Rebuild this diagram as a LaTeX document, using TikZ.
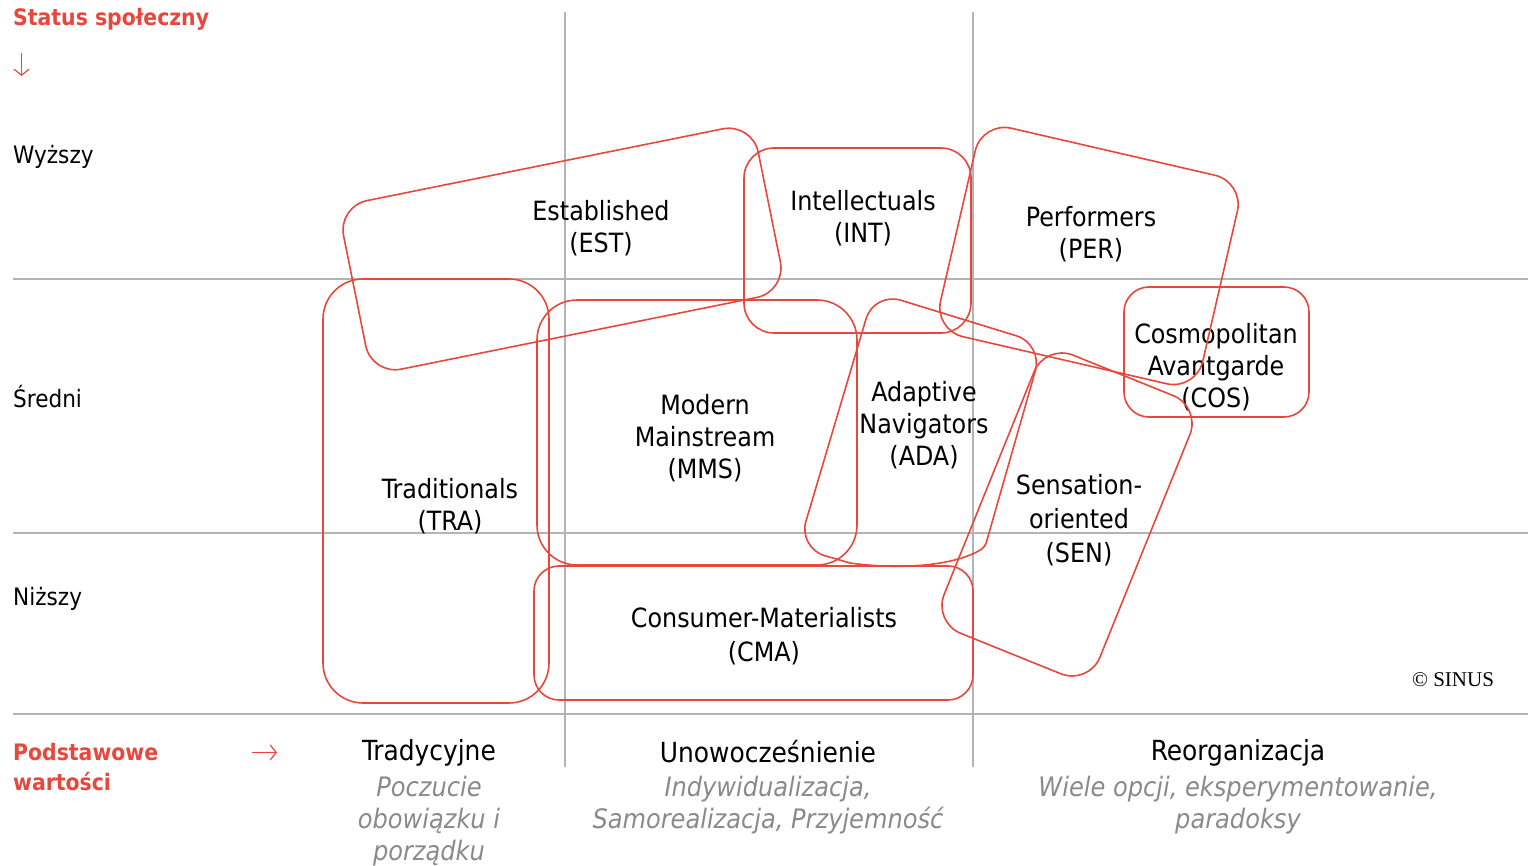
\documentclass[tikz,border=0pt]{standalone}
\usepackage{fontspec}
\usetikzlibrary{arrows.meta}
\setmainfont{DejaVu Sans Condensed}
\newfontfamily\serfont{Liberation Serif}
\definecolor{sred}{HTML}{E8473C}
\definecolor{gline}{HTML}{B4B4B4}
\definecolor{gtext}{HTML}{8A8A8A}
\begin{document}
\begin{tikzpicture}[x=1pt,y=-1pt,
  seg/.style={draw=sred, line width=1.6pt, inner sep=0pt},
  grid/.style={draw=gline, line width=1.6pt},
  lbl/.style={font=\fontsize{26.5}{32}\selectfont, align=center, text=black, inner sep=0pt},
  lblw/.style={font=\fontsize{26.5}{34}\selectfont, align=center, text=black, inner sep=0pt},
  rowlbl/.style={font=\fontsize{24}{28}\selectfont, anchor=west, inner sep=0pt},
  head/.style={font=\fontsize{27.7}{32}\selectfont, align=center, inner sep=0pt},
  sub/.style={font=\fontsize{26.8}{32}\selectfont\itshape, text=gtext, align=center, inner sep=0pt},
  axis/.style={font=\fontsize{22.7}{30}\selectfont\bfseries, text=sred, anchor=west, align=left, inner sep=0pt},
  thinarrow/.style={draw=sred, line width=1.2pt, -{Straight Barb[length=6pt,width=15pt,line width=1.2pt]}}
]
\useasboundingbox (0,0) rectangle (1528,866);
% grid
\coordinate (v1t) at (565,12); \coordinate (v1b) at (565,767);
\coordinate (v2t) at (973,12); \coordinate (v2b) at (973,767);
\coordinate (h1l) at (13,279); \coordinate (h1r) at (1528,279);
\coordinate (h2l) at (13,533); \coordinate (h2r) at (1528,533);
\coordinate (h3l) at (13,714); \coordinate (h3r) at (1528,714);
\draw[grid] (v1t) -- (v1b);
\draw[grid] (v2t) -- (v2b);
\draw[grid] (h1l) -- (h1r);
\draw[grid] (h2l) -- (h2r);
\draw[grid] (h3l) -- (h3r);
% axis labels
\node[axis] (status) at (13,19) {Status społeczny};
\coordinate (da1) at (21.5,53); \coordinate (da2) at (21.5,76);
\draw[thinarrow] (da1) -- (da2);
\node[rowlbl] (wy) at (13,157) {Wyższy};
\node[rowlbl] (sr) at (13,397) {Średni};
\node[rowlbl] (ni) at (13,599) {Niższy};
\node[axis] (podst) at (13,767) {Podstawowe\\wartości};
\coordinate (ra1) at (252,752.5); \coordinate (ra2) at (277,752.5);
\draw[thinarrow] (ra1) -- (ra2);
% column headers
\node[head] (h1) at (429,753) {Tradycyjne};
\node[head] (h2) at (768,752) {Unowocześnienie};
\node[head] (h3) at (1238,753) {Reorganizacja};
\node[sub] (s1) at (429,821) {Poczucie\\obowiązku i\\porządku};
\node[sub] (s2) at (768,805) {Indywidualizacja,\\Samorealizacja, Przyjemność};
\node[sub] (s3) at (1238,805) {Wiele opcji, eksperymentowanie,\\paradoksy};
% segment labels
\node[lbl] (testl) at (601,228) {Established\\(EST)};
\node[lbl] (tint) at (863,218) {Intellectuals\\(INT)};
\node[lbl] (tper) at (1091,234) {Performers\\(PER)};
\node[lbl] (tcos) at (1216,367) {Cosmopolitan\\Avantgarde\\(COS)};
\node[lbl] (tmms) at (705,438) {Modern\\Mainstream\\(MMS)};
\node[lbl] (tada) at (924,425) {Adaptive\\Navigators\\(ADA)};
\node[lbl] (ttra) at (450,506) {Traditionals\\(TRA)};
\node[lblw] (tsen) at (1079,520) {Sensation-\\oriented\\(SEN)};
\node[lblw] (tcma) at (764,636) {Consumer-Materialists\\(CMA)};
\node[font=\serfont\fontsize{21}{24}\selectfont, inner sep=0pt] (copy) at (1453,680) {© SINUS};
% segment shapes
\node[seg, rounded corners=30pt, minimum width=423pt, minimum height=172pt, rotate=11.4] (est) at (562,249) {};
\node[seg, rounded corners=30pt, minimum width=227pt, minimum height=185pt] (int) at (857.5,240.5) {};
\node[seg, rounded corners=30pt, minimum width=269pt, minimum height=214pt, rotate=-13] (per) at (1089,256) {};
\node[seg, rounded corners=25pt, minimum width=185pt, minimum height=130pt] (cos) at (1216.5,352) {};
\node[seg, rounded corners=40pt, minimum width=226pt, minimum height=424pt] (tra) at (436,491) {};
\node[seg, rounded corners=40pt, minimum width=320pt, minimum height=265pt] (mms) at (697,432.5) {};
\node[seg, rounded corners=25pt, minimum width=439pt, minimum height=134pt] (cma) at (753.5,633) {};
\node[seg, rounded corners=30pt, minimum width=168pt, minimum height=300pt, rotate=-22] (sen) at (1067,514.5) {};
\draw[draw=sred, line width=1.6pt, line join=round, line cap=round]
  (850,563) [rounded corners=28pt] -- (798,548) -- (874,292) -- (1043,344) [rounded corners=4pt] -- (985,547)
  [sharp corners] .. controls (955,566) and (900,570) .. (850,563);
\end{tikzpicture}
\end{document}
